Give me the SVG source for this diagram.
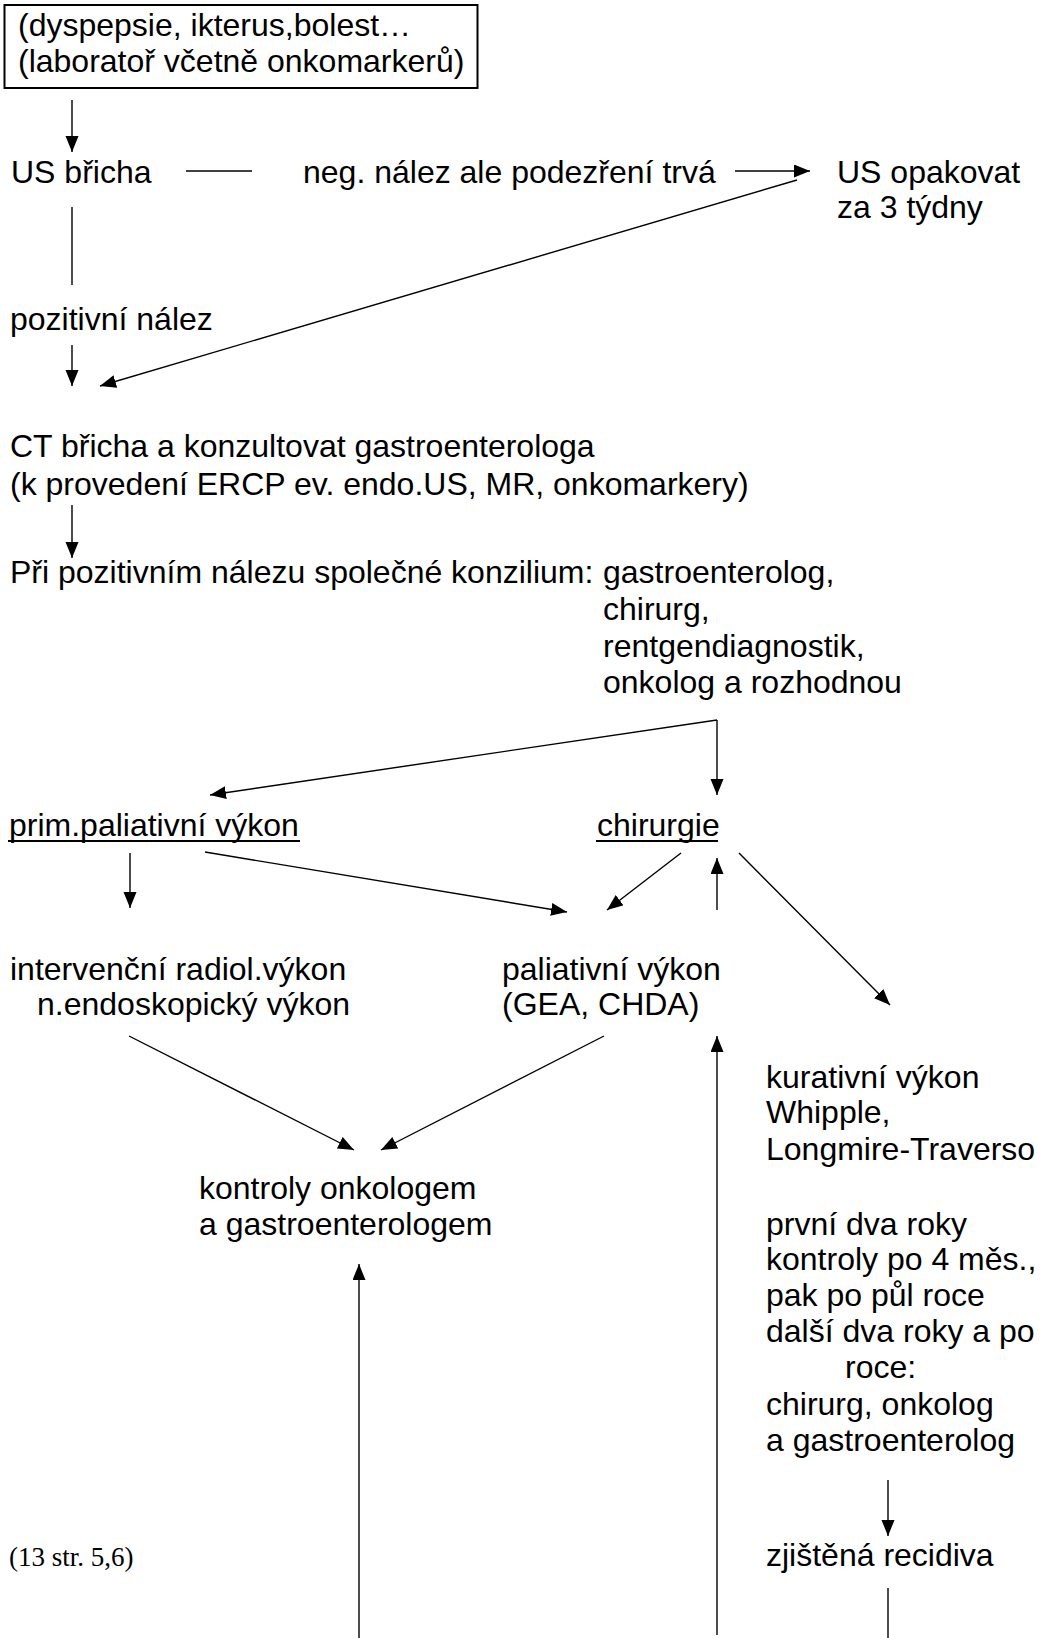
<svg xmlns="http://www.w3.org/2000/svg" width="1041" height="1638" viewBox="0 0 1041 1638">
<style>
text{font-family:"Liberation Sans",Arial,sans-serif;font-size:32px;fill:#000}
.tm{font-family:"Liberation Serif","Times New Roman",serif;font-size:27px}
.c{stroke:#000;stroke-width:1.4;fill:none}
.a{stroke:#000;stroke-width:1.4;fill:none;marker-end:url(#ah)}
.u{stroke:#000;stroke-width:2}
</style>
<defs>
<marker id="ah" markerUnits="userSpaceOnUse" markerWidth="18" markerHeight="14" refX="16" refY="6.5" orient="auto">
<path d="M0,0 L16,6.5 L0,13 z" fill="#000"/>
</marker>
</defs>
<rect width="1041" height="1638" fill="#fff"/>
<g id="n-start">
<rect x="4.5" y="5" width="473" height="83" fill="none" stroke="#000" stroke-width="2"/>
<text x="18" y="36">(dyspepsie, ikterus,bolest…</text>
<text x="18" y="72">(laboratoř včetně onkomarkerů)</text>
</g>
<g id="n-us"><text x="11" y="183">US břicha</text></g>
<g id="n-neg"><text x="303" y="183">neg. nález ale podezření trvá</text></g>
<g id="n-usopak"><text x="837" y="183">US opakovat</text><text x="837" y="218">za 3 týdny</text></g>
<g id="n-poz"><text x="10" y="330">pozitivní nález</text></g>
<g id="n-ct"><text x="10" y="457">CT břicha a konzultovat gastroenterologa</text><text x="10" y="495">(k provedení ERCP ev. endo.US, MR, onkomarkery)</text></g>
<g id="n-konz">
<text x="10" y="583">Při pozitivním nálezu společné konzilium:</text>
<text x="603" y="583">gastroenterolog,</text>
<text x="603" y="620">chirurg,</text>
<text x="603" y="657">rentgendiagnostik,</text>
<text x="603" y="693">onkolog a rozhodnou</text>
</g>
<g id="n-prim"><text x="9" y="836">prim.paliativní výkon</text><line class="u" x1="8" y1="841" x2="300" y2="841"/></g>
<g id="n-chir"><text x="597" y="836">chirurgie</text><line class="u" x1="596" y1="841" x2="718" y2="841"/></g>
<g id="n-interv"><text x="10" y="980">intervenční radiol.výkon</text><text x="37" y="1015">n.endoskopický výkon</text></g>
<g id="n-pal"><text x="502" y="980">paliativní výkon</text><text x="502" y="1015">(GEA, CHDA)</text></g>
<g id="n-kur"><text x="766" y="1088">kurativní výkon</text><text x="766" y="1123">Whipple,</text><text x="766" y="1160">Longmire-Traverso</text></g>
<g id="n-kontr"><text x="199" y="1199">kontroly onkologem</text><text x="199" y="1235">a gastroenterologem</text></g>
<g id="n-follow">
<text x="766" y="1235">první dva roky</text>
<text x="766" y="1270">kontroly po 4 měs.,</text>
<text x="766" y="1306">pak po půl roce</text>
<text x="766" y="1342">další dva roky a po</text>
<text x="845" y="1378">roce:</text>
<text x="766" y="1415">chirurg, onkolog</text>
<text x="766" y="1451">a gastroenterolog</text>
</g>
<g id="n-rec"><text x="766" y="1566">zjištěná recidiva</text></g>
<g id="n-ref"><text class="tm" x="9" y="1566">(13 str. 5,6)</text></g>
<g id="connectors">
<line class="a" x1="72" y1="100" x2="72" y2="152"/>
<line class="c" x1="186" y1="171" x2="252" y2="171"/>
<line class="a" x1="735" y1="171" x2="810" y2="171"/>
<line class="a" x1="797" y1="180" x2="100" y2="386"/>
<line class="c" x1="72" y1="207" x2="72" y2="285"/>
<line class="a" x1="72" y1="345" x2="72" y2="386"/>
<line class="a" x1="72" y1="505" x2="72" y2="558"/>
<line class="a" x1="717" y1="720" x2="717" y2="795"/>
<line class="a" x1="717" y1="720" x2="210" y2="795"/>
<line class="a" x1="130" y1="853" x2="130" y2="908"/>
<line class="a" x1="205" y1="852" x2="567" y2="912"/>
<line class="a" x1="681" y1="853" x2="607" y2="910"/>
<line class="a" x1="717" y1="910" x2="717" y2="858"/>
<line class="a" x1="739" y1="853" x2="890" y2="1005"/>
<line class="a" x1="129" y1="1036" x2="354" y2="1150"/>
<line class="a" x1="604" y1="1036" x2="381" y2="1150"/>
<line class="a" x1="717" y1="1635" x2="717" y2="1036"/>
<line class="a" x1="359" y1="1638" x2="359" y2="1264"/>
<line class="a" x1="888" y1="1480" x2="888" y2="1536"/>
<line class="c" x1="888" y1="1588" x2="888" y2="1638"/>
</g>
</svg>
